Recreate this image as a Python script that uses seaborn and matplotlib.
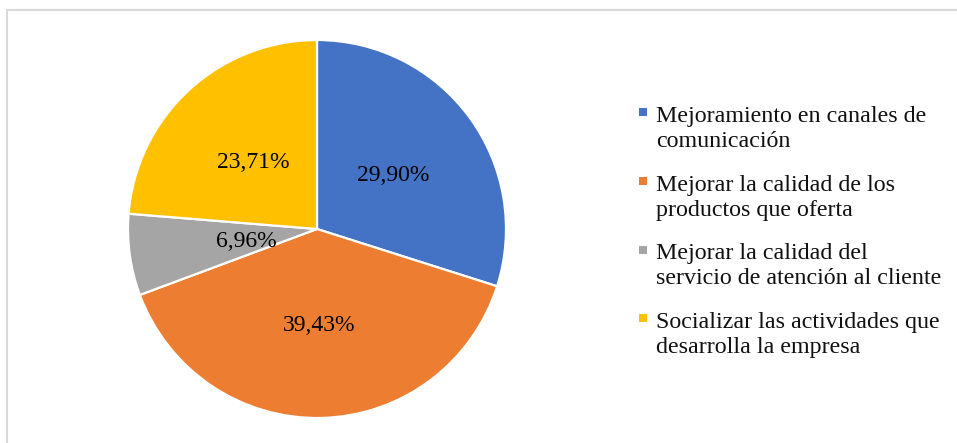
import matplotlib
matplotlib.use("Agg")
import matplotlib.pyplot as plt
from matplotlib.lines import Line2D
from matplotlib.legend_handler import HandlerBase
from matplotlib.patches import Rectangle
import numpy as np
import seaborn as sns

# Data
categories = [
    "Mejoramiento en canales de\ncomunicación",
    "Mejorar la calidad de los\nproductos que oferta",
    "Mejorar la calidad del\nservicio de atención al cliente",
    "Socializar las actividades que\ndesarrolla la empresa",
]
shares = [29.90, 39.43, 6.96, 23.71]
value_labels = ["29,90%", "39,43%", "6,96%", "23,71%"]

sns.set_theme(style="white")
plt.rcParams["font.family"] = ["Liberation Serif", "DejaVu Serif"]

palette = sns.color_palette(["#4472C4", "#ED7D31", "#A5A5A5", "#FFC000"])

W, H = 957, 443
fig = plt.figure(figsize=(W / 100, H / 100), dpi=100)
fig.patch.set_facecolor("white")

# pie area: centre (317, 229) px, radius 189 px
cx, cy, r = 317, 229, 189
ax = fig.add_axes([(cx - r) / W, (H - cy - r) / H, 2 * r / W, 2 * r / H])

wedges, _ = ax.pie(
    shares,
    colors=palette,
    startangle=90,
    counterclock=False,
    wedgeprops=dict(edgecolor="white", linewidth=1.6),
    radius=1.0,
)
ax.set_xlim(-1, 1)
ax.set_ylim(-1, 1)
ax.set_aspect("equal")
ax.axis("off")

# value labels placed along each wedge's bisector
label_dist = [0.5, 0.5, 0.38, 0.5]
for w, txt, d in zip(wedges, value_labels, label_dist):
    ang = np.deg2rad((w.theta1 + w.theta2) / 2)
    ax.text(d * np.cos(ang), d * np.sin(ang), txt, ha="center",
            va="center_baseline", fontsize=17, color="black")


class FirstLineSquare(HandlerBase):
    """Square marker aligned with the first line of a two-line label."""
    def __init__(self, lift, **kw):
        super().__init__(**kw)
        self.lift = lift

    def create_artists(self, legend, orig_handle, xdescent, ydescent,
                       width, height, fontsize, trans):
        s = 5.8
        x0 = -xdescent + (width - s) / 2
        y0 = -ydescent + (height - s) / 2 + self.lift * fontsize
        rect = Rectangle((x0, y0), s, s, facecolor=orig_handle.get_facecolor(),
                         edgecolor="none", transform=trans)
        return [rect]


LEG_FS = 17.3
handles = [Rectangle((0, 0), 1, 1, facecolor=c) for c in palette]
leg = fig.legend(
    handles, categories,
    loc="upper left",
    bbox_to_anchor=(638 / W, 1 - 106 / H),
    frameon=False,
    fontsize=LEG_FS,
    handlelength=0.4,
    handleheight=0.7,
    handletextpad=0.35,
    labelspacing=0.95,
    borderpad=0,
    borderaxespad=0,
    handler_map={Rectangle: FirstLineSquare(lift=0.67)},
)
for t in leg.get_texts():
    t.set_color("#111111")
    t.set_linespacing(1.24)

# outer frame (top and left edges)
fig.add_artist(Line2D([7.5 / W, 1.0], [1 - 9.5 / H, 1 - 9.5 / H],
                      transform=fig.transFigure, color="#D9D9D9", linewidth=1.5))
fig.add_artist(Line2D([7.5 / W, 7.5 / W], [0, 1 - 9.5 / H],
                      transform=fig.transFigure, color="#D9D9D9", linewidth=1.5))

fig.savefig("out.png", dpi=100, facecolor="white")
